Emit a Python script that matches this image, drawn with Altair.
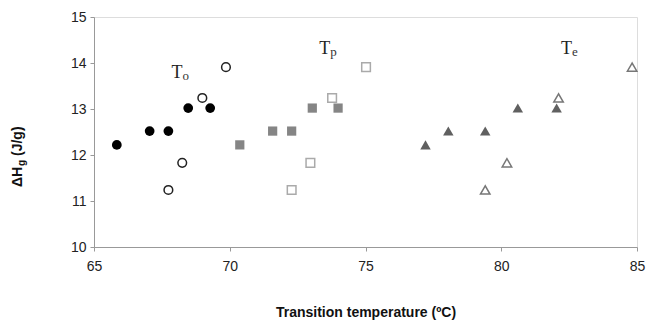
import altair as alt
import pandas as pd

# Data
to_filled_x = [65.84, 67.05, 67.74, 68.47, 69.28]
to_filled_y = [12.22, 12.52, 12.52, 13.02, 13.02]
to_open_x = [67.74, 68.25, 68.99, 69.86]
to_open_y = [11.24, 11.83, 13.24, 13.91]
tp_filled_x = [70.37, 71.58, 72.28, 73.04, 73.99]
tp_filled_y = [12.22, 12.52, 12.52, 13.02, 13.02]
tp_open_x = [72.28, 72.97, 73.77, 75.02]
tp_open_y = [11.24, 11.83, 13.24, 13.91]
te_filled_x = [77.21, 78.05, 79.41, 80.61, 82.04]
te_filled_y = [12.22, 12.52, 12.52, 13.02, 13.02]
te_open_x = [79.41, 80.21, 82.11, 84.82]
te_open_y = [11.24, 11.83, 13.24, 13.91]

label_main = ["T", "T", "T"]
label_sub = ["o", "p", "e"]
label_x = [67.85, 73.3, 82.2]
label_y = [13.67, 14.2, 14.2]

xs = alt.Scale(domain=[65, 85], nice=False)
ys = alt.Scale(domain=[10, 15], nice=False)
xax = alt.Axis(values=[65, 70, 75, 80, 85], title="Transition temperature (ºC)",
               grid=False, domainColor="#999999", tickColor="#999999", tickSize=4,
               labelFlush=False,
               labelFont="Liberation Sans", labelFontSize=14, labelColor="#222222",
               labelPadding=8, titleFont="Liberation Sans", titleFontSize=14,
               titleFontWeight="bold", titleColor="#111111", titlePadding=32)
yax = alt.Axis(values=[10, 11, 12, 13, 14, 15], title=None,
               grid=False, domainColor="#999999", tickColor="#999999", tickSize=4,
               labelFlush=False,
               labelFont="Liberation Sans", labelFontSize=14, labelColor="#222222",
               labelPadding=4)


def layer(xv, yv, shape, filled, color, size):
    df = pd.DataFrame({"x": xv, "y": yv})
    if filled:
        m = alt.Chart(df).mark_point(shape=shape, filled=True, fill=color, opacity=1,
                                     size=size, strokeWidth=0)
    else:
        m = alt.Chart(df).mark_point(shape=shape, filled=False, stroke=color, opacity=1,
                                     size=size, strokeWidth=1.5)
    return m.encode(x=alt.X("x:Q", scale=xs, axis=xax), y=alt.Y("y:Q", scale=ys, axis=yax))


layers = [
    layer(to_filled_x, to_filled_y, "circle", True, "#000000", 95),
    layer(to_open_x, to_open_y, "circle", False, "#222222", 75),
    layer(tp_filled_x, tp_filled_y, "square", True, "#858585", 85),
    layer(tp_open_x, tp_open_y, "square", False, "#aaaaaa", 75),
    layer(te_filled_x, te_filled_y, "triangle-up", True, "#606060", 110),
    layer(te_open_x, te_open_y, "triangle-up", False, "#777777", 90),
]

ldf = pd.DataFrame({"x": label_x, "y": label_y, "t": label_main, "s": label_sub})
main_txt = alt.Chart(ldf).mark_text(font="Liberation Serif", fontSize=18, color="#222222",
                                    align="left", baseline="alphabetic").encode(
    x=alt.X("x:Q", scale=xs), y=alt.Y("y:Q", scale=ys), text="t:N")
sub_txt = alt.Chart(ldf).mark_text(font="Liberation Serif", fontSize=13, color="#333333",
                                   align="left", baseline="alphabetic", dx=11, dy=2).encode(
    x=alt.X("x:Q", scale=xs), y=alt.Y("y:Q", scale=ys), text="s:N")

# y-axis title pieces (rotated), with subscript g
yt1 = alt.Chart(pd.DataFrame({"t": ["ΔH"]})).mark_text(
    font="Liberation Sans", fontSize=14, fontWeight="bold", angle=270, align="left",
    baseline="middle", color="#111111").encode(x=alt.value(-76), y=alt.value(170), text="t:N")
yt2 = alt.Chart(pd.DataFrame({"t": ["g"]})).mark_text(
    font="Liberation Sans", fontSize=10, fontWeight="bold", angle=270, align="left",
    baseline="middle", color="#111111").encode(x=alt.value(-72), y=alt.value(149), text="t:N")
yt3 = alt.Chart(pd.DataFrame({"t": ["(J/g)"]})).mark_text(
    font="Liberation Sans", fontSize=14, fontWeight="bold", angle=270, align="left",
    baseline="middle", color="#111111").encode(x=alt.value(-76), y=alt.value(139), text="t:N")

chart = alt.layer(*layers, main_txt, sub_txt, yt1, yt2, yt3).properties(
    width=543, height=230,
    autosize=alt.AutoSizeParams(type="none"),
    padding={"left": 86, "top": 9, "right": 9, "bottom": 75},
).configure_view(stroke="#999999", strokeWidth=1).configure(background="white")

chart.save("out.html", embed_options={"renderer": "svg", "actions": False})
